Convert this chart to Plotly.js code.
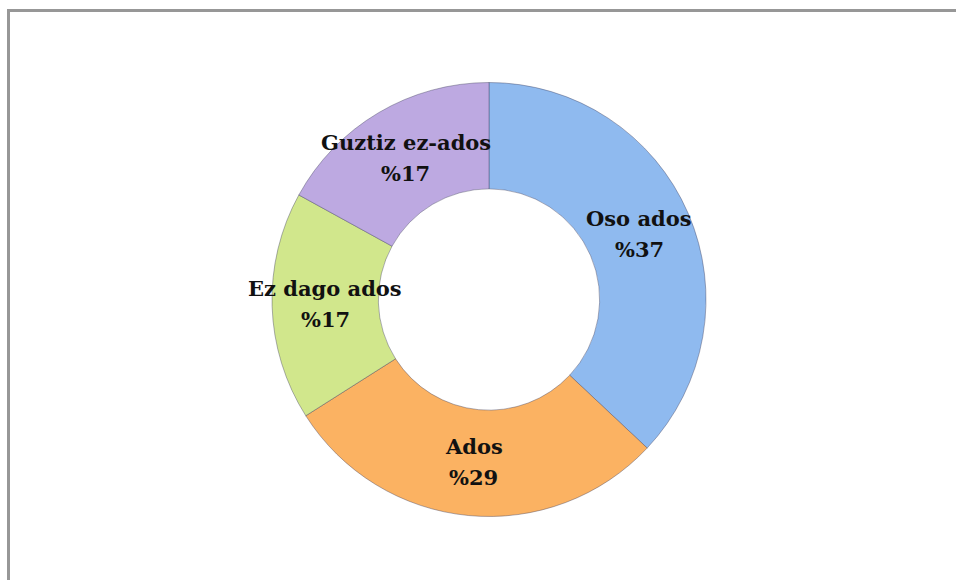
<!DOCTYPE html>
<html>
<head>
<meta charset="utf-8">
<script src="https://cdn.plot.ly/plotly-3.0.1.min.js"></script>
<style>
  html, body { margin: 0; padding: 0; width: 956px; height: 580px; overflow: hidden; background: #ffffff; }
  #frame { position: absolute; left: 7px; top: 9px; width: 1100px; height: 700px; border: 3px solid #979797; box-sizing: border-box; }
  #chart { position: absolute; left: 0; top: 0; width: 956px; height: 580px; }
</style>
</head>
<body>
<div id="frame"></div>
<div id="chart"></div>
<script>
const categories = ["Oso ados", "Ados", "Ez dago ados", "Guztiz ez-ados"];
const values = [37, 29, 17, 17];
const valueLabels = ["%37", "%29", "%17", "%17"];
const colors = ["#8FBAEF", "#FBB262", "#D1E78C", "#BDA9E1"];

const W = 956, H = 580;
const domainX = [272 / W, 706 / W];
const domainY = [1 - 517 / H, 1 - 82 / H];
const hole = 0.51;

// label positions derived from the values (mid-angle of each slice, mid-radius of ring)
const cx = (domainX[0] + domainX[1]) / 2 * W;
const cy = (1 - (domainY[0] + domainY[1]) / 2) * H;
const R = Math.min((domainX[1] - domainX[0]) * W, (domainY[1] - domainY[0]) * H) / 2;
const rMid = R * (1 + hole) / 2;
const total = values.reduce((a, b) => a + b, 0);
let cum = 0;
const annotations = [];
const font = { family: "DejaVu Serif", size: 21, color: "#111111" };
categories.forEach((c, i) => {
  const mid = (cum + values[i] / 2) / total;
  cum += values[i];
  const ang = mid * 2 * Math.PI;
  const px = cx + rMid * Math.sin(ang);
  const py = cy - rMid * Math.cos(ang);
  const base = { x: px / W, y: 1 - py / H, xref: "paper", yref: "paper",
    showarrow: false, xanchor: "center", yanchor: "middle", font: font };
  annotations.push(Object.assign({}, base, { text: "<b>" + c + "</b>", yshift: 16 }));
  annotations.push(Object.assign({}, base, { text: "<b>" + valueLabels[i] + "</b>", yshift: -15 }));
});

const trace = {
  type: "pie",
  labels: categories,
  values: values,
  hole: hole,
  sort: false,
  direction: "clockwise",
  rotation: 0,
  domain: { x: domainX, y: domainY },
  marker: { colors: colors, line: { color: "rgba(60,60,90,0.4)", width: 1 } },
  textinfo: "none",
  hoverinfo: "label+percent"
};

Plotly.newPlot("chart", [trace], {
  width: W, height: H,
  margin: { l: 0, r: 0, t: 0, b: 0 },
  showlegend: false,
  paper_bgcolor: "rgba(0,0,0,0)",
  plot_bgcolor: "rgba(0,0,0,0)",
  annotations: annotations
}, { displayModeBar: false, staticPlot: true });
</script>
</body>
</html>
